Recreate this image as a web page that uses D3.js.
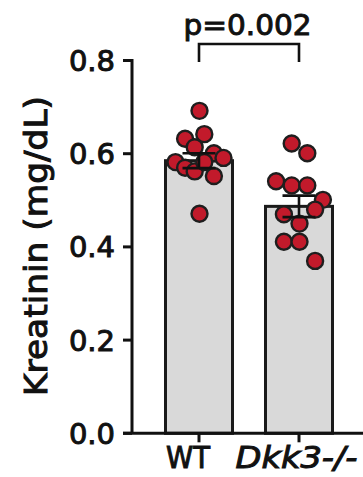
<!DOCTYPE html>
<html>
<head>
<meta charset="utf-8">
<script src="https://cdn.jsdelivr.net/npm/d3@7"></script>
<style>
  html, body { margin: 0; padding: 0; background: #fff; }
  svg text { font-family: "DejaVu Sans", sans-serif; fill: #111; }
</style>
</head>
<body>
<svg id="chart" width="363" height="477"></svg>
<script>
// Serum creatinine per genotype
const groups = ["WT", "Dkk3-/-"];
const wtValues = [0.692, 0.632, 0.614, 0.642, 0.601, 0.582, 0.570, 0.562, 0.582, 0.552, 0.591, 0.471];
const dkk3Values = [0.622, 0.601, 0.541, 0.532, 0.532, 0.501, 0.470, 0.450, 0.480, 0.411, 0.411, 0.370];
const means = [0.585, 0.487];
const sems = [0.016, 0.023];
const yTicks = [0.0, 0.2, 0.4, 0.6, 0.8];
const pLabel = "p=0.002";
const yTitle = "Kreatinin (mg/dL)";

const svg = d3.select("#chart");
const ink = "#111";
const dotFill = "#c21a2b";
const textStroke = 1.0;

const y = d3.scaleLinear().domain([0, 0.8]).range([433.3, 60.5]);
const x = d3.scaleBand().domain(groups).range([149, 349]);
const cx = g => x(g) + x.bandwidth() / 2;
const axisX = 132;

// bars
const barW = x.bandwidth() * 0.67;
svg.selectAll("rect.bar").data(groups).join("rect")
  .attr("class", "bar")
  .attr("x", g => cx(g) - barW / 2)
  .attr("y", (g, i) => y(means[i]))
  .attr("width", barW)
  .attr("height", (g, i) => y(0) - y(means[i]))
  .attr("fill", "#d9d9d9")
  .attr("stroke", "#1a1a1a")
  .attr("stroke-width", 3);

// scatter layout: points grouped into rows by value, spread symmetrically
const r = 8;
function spread(values, maxWidth) {
  const order = values.map((v, i) => i).sort((a, b) => values[b] - values[a]);
  const rows = [];
  let cur = null;
  order.forEach(i => {
    if (!cur || y(values[i]) - y(values[cur[0]]) > 21) { cur = [i]; rows.push(cur); }
    else cur.push(i);
  });
  const maxRow = d3.max(rows, rw => rw.length);
  const step = Math.min(15.6, maxRow > 1 ? maxWidth / (maxRow - 1) : 15.6);
  const off = new Array(values.length).fill(0);
  rows.forEach(rw => {
    rw.sort((a, b) => a - b);
    rw.forEach((idx, k) => { off[idx] = (k - (rw.length - 1) / 2) * step; });
  });
  return values.map((v, i) => ({ v, dx: off[i] }));
}

const series = [wtValues, dkk3Values];
series.forEach((vals, gi) => {
  const pts = spread(vals, 48);
  svg.append("g").selectAll("circle").data(pts).join("circle")
    .attr("cx", d => cx(groups[gi]) + 0.5 + d.dx)
    .attr("cy", d => y(d.v))
    .attr("r", r)
    .attr("fill", dotFill)
    .attr("stroke", "#1e1e1e")
    .attr("stroke-width", 2.4);
});

// mean ± SEM
const capW = 33;
groups.forEach((g, i) => {
  const gg = svg.append("g").attr("stroke", ink).attr("stroke-width", 2.6);
  const c = cx(g);
  gg.append("line").attr("x1", c).attr("x2", c).attr("y1", y(means[i] + sems[i])).attr("y2", y(means[i] - sems[i]));
  [means[i] + sems[i], means[i] - sems[i]].forEach(v => {
    gg.append("line").attr("x1", c - capW / 2).attr("x2", c + capW / 2).attr("y1", y(v)).attr("y2", y(v));
  });
});

// axes
const axes = svg.append("g").attr("stroke", ink).attr("stroke-width", 3).attr("fill", "none");
axes.append("line").attr("x1", axisX).attr("x2", axisX).attr("y1", y(0.8) - 1.5).attr("y2", y(0));
axes.append("line").attr("x1", 123).attr("x2", 363).attr("y1", y(0)).attr("y2", y(0));
axes.selectAll("line.yt").data(yTicks).join("line").attr("class", "yt")
  .attr("x1", 123).attr("x2", axisX).attr("y1", d => y(d)).attr("y2", d => y(d));
axes.selectAll("line.xt").data(groups).join("line").attr("class", "xt")
  .attr("x1", cx).attr("x2", cx).attr("y1", y(0)).attr("y2", y(0) + 9);

svg.selectAll("text.yl").data(yTicks).join("text").attr("class", "yl")
  .attr("x", 115).attr("y", d => y(d)).attr("dy", "0.36em")
  .attr("text-anchor", "end").attr("font-size", 29)
  .attr("stroke", ink).attr("stroke-width", textStroke)
  .text(d => d.toFixed(1));

// category labels, fitted to set widths from their left edges
const labelW = [44, 122];
const labelShift = [-33, -63.5];
svg.selectAll("text.xl").data(groups).join("text").attr("class", "xl")
  .attr("x", (g, i) => cx(g) + labelShift[i]).attr("y", 468)
  .attr("text-anchor", "start").attr("font-size", 30)
  .attr("font-style", (g, i) => i === 1 ? "italic" : "normal")
  .attr("textLength", (g, i) => labelW[i])
  .attr("lengthAdjust", "spacingAndGlyphs")
  .attr("stroke", ink).attr("stroke-width", textStroke)
  .text(g => g);

svg.append("text")
  .attr("transform", `translate(47,396) rotate(-90)`)
  .attr("text-anchor", "start").attr("font-size", 32)
  .attr("textLength", 300).attr("lengthAdjust", "spacingAndGlyphs")
  .attr("stroke", ink).attr("stroke-width", textStroke)
  .text(yTitle);

// significance bracket
const b = svg.append("g").attr("stroke", ink).attr("stroke-width", 2.6).attr("fill", "none");
b.append("path").attr("d", `M${cx(groups[0])},62 V44 H${cx(groups[1])} V62`);
svg.append("text").attr("x", 183.5).attr("y", 34.5)
  .attr("text-anchor", "start").attr("font-size", 29)
  .attr("textLength", 128).attr("lengthAdjust", "spacingAndGlyphs")
  .attr("stroke", ink).attr("stroke-width", textStroke)
  .text(pLabel);
</script>
</body>
</html>
